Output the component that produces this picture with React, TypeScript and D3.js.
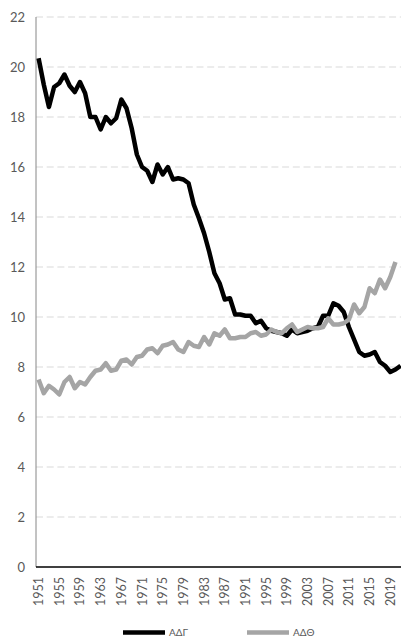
import React, { useRef, useEffect } from "react";
import * as d3 from "d3";

// years on the category axis
const years: number[] = d3.range(1951, 2022);

// ΑΔΓ (black), 1951-2021
const adgValues: number[] = [
  20.35, 19.3, 18.4, 19.2, 19.35, 19.7, 19.25, 19.0, 19.4, 18.95,
  18.0, 18.0, 17.5, 18.0, 17.75, 17.95, 18.7, 18.35, 17.55, 16.5,
  16.0, 15.85, 15.4, 16.1, 15.7, 16.0, 15.5, 15.55, 15.5, 15.35,
  14.5, 13.95, 13.35, 12.6, 11.75, 11.35, 10.7, 10.75, 10.1, 10.1,
  10.05, 10.05, 9.75, 9.85, 9.55, 9.45, 9.4, 9.35, 9.25, 9.5,
  9.35, 9.4, 9.45, 9.55, 9.6, 10.05, 10.05, 10.55, 10.45, 10.2,
  9.6, 9.1, 8.6, 8.45, 8.5, 8.6, 8.2, 8.05, 7.8, 7.9,
  8.05,
];

// ΑΔΘ (gray), 1951-2020
const adthValues: number[] = [
  7.5, 6.95, 7.25, 7.1, 6.9, 7.4, 7.6, 7.15, 7.4, 7.3,
  7.6, 7.85, 7.9, 8.15, 7.85, 7.9, 8.25, 8.3, 8.1, 8.4,
  8.45, 8.7, 8.75, 8.55, 8.85, 8.9, 9.0, 8.7, 8.6, 9.0,
  8.85, 8.8, 9.2, 8.9, 9.35, 9.25, 9.5, 9.15, 9.15, 9.2,
  9.2, 9.35, 9.4, 9.25, 9.3, 9.5, 9.4, 9.35, 9.55, 9.7,
  9.4, 9.5, 9.6, 9.55, 9.55, 9.6, 9.95, 9.7, 9.7, 9.75,
  9.9, 10.5, 10.15, 10.4, 11.15, 10.95, 11.5, 11.15, 11.6, 12.2,
];

const yTicks: number[] = [0, 2, 4, 6, 8, 10, 12, 14, 16, 18, 20, 22];
const xTickLabels: number[] = [
  1951, 1955, 1959, 1963, 1967, 1971, 1975, 1979, 1983, 1987,
  1991, 1995, 1999, 2003, 2007, 2011, 2015, 2019,
];

const seriesNames = ["ΑΔΓ", "ΑΔΘ"];
const seriesColors = ["#000000", "#a5a5a5"];

export default function App() {
  const ref = useRef<HTMLDivElement>(null);

  useEffect(() => {
    const width = 401;
    const height = 639;
    const font = "Lato, 'Open Sans', sans-serif";

    d3.select(ref.current).selectAll("*").remove();
    const svg = d3
      .select(ref.current)
      .append("svg")
      .attr("width", width)
      .attr("height", height)
      .style("position", "absolute")
      .style("left", "0px")
      .style("top", "0px")
      .style("background", "#fff");

    const x = d3
      .scalePoint<number>()
      .domain(years)
      .range([36, 36 + years.length * 5.172])
      .padding(0.5);

    const y = d3.scaleLinear().domain([0, 22]).range([567, 17]);

    // gridlines
    svg
      .append("g")
      .selectAll("line")
      .data(yTicks.filter((t) => t > 0))
      .join("line")
      .attr("x1", 36)
      .attr("x2", width + 10)
      .attr("y1", (d) => y(d))
      .attr("y2", (d) => y(d))
      .attr("stroke", "#d9d9d9")
      .attr("stroke-width", 1)
      .attr("stroke-dasharray", "7,3.7");

    // y tick labels
    svg
      .append("g")
      .selectAll("text")
      .data(yTicks)
      .join("text")
      .attr("x", 25)
      .attr("y", (d) => y(d))
      .attr("dy", "0.36em")
      .attr("text-anchor", "end")
      .style("font-family", font)
      .style("font-size", "13px")
      .attr("fill", "#595959")
      .text((d) => d);

    // x tick labels (rotated)
    svg
      .append("g")
      .selectAll("text")
      .data(xTickLabels)
      .join("text")
      .attr("transform", (d) => `translate(${x(d)},577) rotate(-90)`)
      .attr("dy", "0.36em")
      .attr("text-anchor", "end")
      .style("font-family", font)
      .style("font-size", "12.5px")
      .attr("fill", "#595959")
      .text((d) => d);

    // axes
    svg
      .append("line")
      .attr("x1", 36)
      .attr("x2", 36)
      .attr("y1", y(22))
      .attr("y2", y(0))
      .attr("stroke", "#868686")
      .attr("stroke-width", 1);

    svg
      .append("line")
      .attr("x1", 36)
      .attr("x2", width + 10)
      .attr("y1", y(0))
      .attr("y2", y(0))
      .attr("stroke", "#000")
      .attr("stroke-width", 1.5);

    // lines
    const line = d3
      .line<number>()
      .x((d, i) => x(years[i]) as number)
      .y((d) => y(d));

    [adgValues, adthValues].forEach((vals, i) => {
      svg
        .append("path")
        .datum(vals)
        .attr("fill", "none")
        .attr("stroke", seriesColors[i])
        .attr("stroke-width", 4.5)
        .attr("stroke-linejoin", "round")
        .attr("d", line);
    });

    // legend
    const legendX = [123, 247];
    seriesNames.forEach((name, i) => {
      svg
        .append("line")
        .attr("x1", legendX[i])
        .attr("x2", legendX[i] + 42)
        .attr("y1", 632.5)
        .attr("y2", 632.5)
        .attr("stroke", seriesColors[i])
        .attr("stroke-width", 4.5);
      svg
        .append("text")
        .attr("x", legendX[i] + 46)
        .attr("y", 632.5)
        .attr("dy", "0.36em")
        .style("font-family", font)
        .style("font-size", "10px")
        .attr("fill", "#595959")
        .text(name);
    });
  }, []);

  return <div ref={ref}></div>;
}
